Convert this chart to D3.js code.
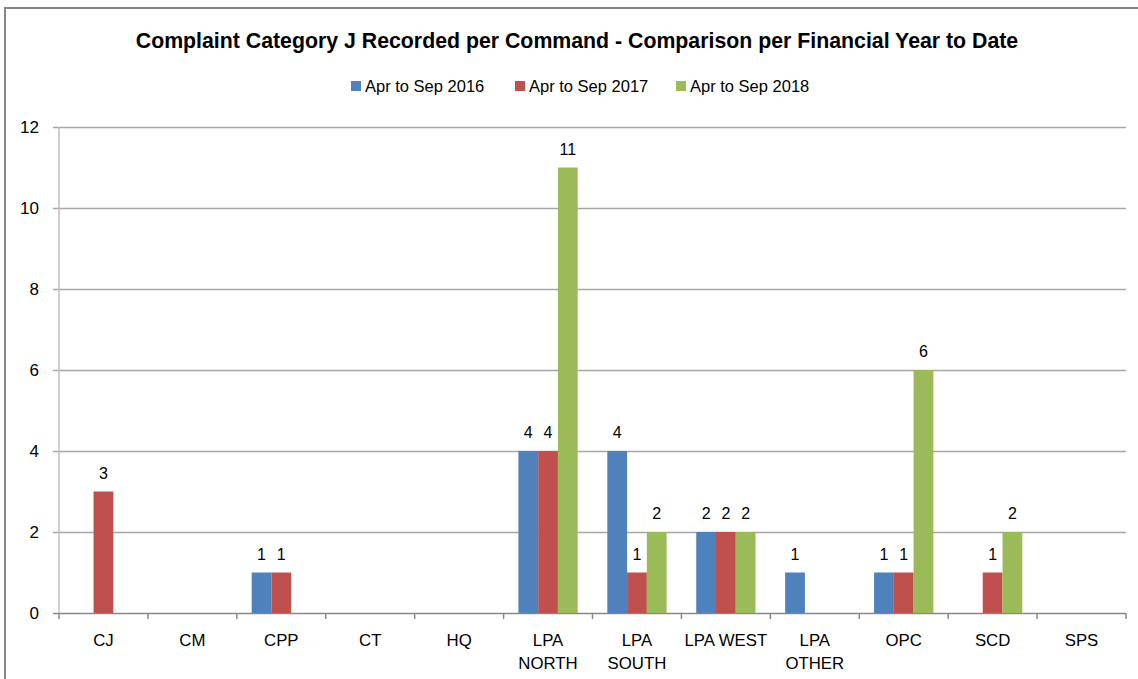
<!DOCTYPE html>
<html>
<head>
<meta charset="utf-8">
<script src="https://cdn.jsdelivr.net/npm/d3@7"></script>
<style>
  body { margin: 0; background: #fff; }
  text { font-family: "Liberation Sans", Arial, sans-serif; fill: #000; }
</style>
</head>
<body>
<script>
// chart data
var categories = ["CJ", "CM", "CPP", "CT", "HQ", "LPA NORTH", "LPA SOUTH", "LPA WEST", "LPA OTHER", "OPC", "SCD", "SPS"];
var tickLabels = [["CJ"], ["CM"], ["CPP"], ["CT"], ["HQ"], ["LPA", "NORTH"], ["LPA", "SOUTH"], ["LPA WEST"], ["LPA", "OTHER"], ["OPC"], ["SCD"], ["SPS"]];
var seriesNames = ["Apr to Sep 2016", "Apr to Sep 2017", "Apr to Sep 2018"];
var values2016 = [0, 0, 1, 0, 0, 4, 4, 2, 1, 1, 0, 0];
var values2017 = [3, 0, 1, 0, 0, 4, 1, 2, 0, 1, 1, 0];
var values2018 = [0, 0, 0, 0, 0, 11, 2, 2, 0, 6, 2, 0];
var yTicks = [0, 2, 4, 6, 8, 10, 12];
var colors = ["#4F81BD", "#C0504D", "#9BBB59"];

var W = 1138, H = 679;
var plotLeft = 59, plotRight = 1126, plotTop = 127, plotBottom = 613;

var svg = d3.select("body").append("svg")
    .attr("width", W)
    .attr("height", H);

// outer frame
svg.append("rect")
    .attr("x", 5).attr("y", 8)
    .attr("width", W + 10).attr("height", H + 10)
    .attr("fill", "none")
    .attr("stroke", "#868686")
    .attr("stroke-width", 2);

svg.append("text")
    .attr("x", 577).attr("y", 48)
    .attr("text-anchor", "middle")
    .attr("font-size", "21.3px")
    .attr("font-weight", "bold")
    .text("Complaint Category J Recorded per Command - Comparison per Financial Year to Date");

var x0 = d3.scaleBand().domain(categories).range([plotLeft, plotRight]).paddingInner(0).paddingOuter(0);
var x1 = d3.scaleBand().domain(seriesNames).range([0, x0.bandwidth()]).paddingInner(0).paddingOuter(0.75);
var y = d3.scaleLinear().domain([0, 12]).range([plotBottom, plotTop]);

// gridlines
svg.append("g").selectAll("line")
    .data(yTicks)
    .enter().append("line")
    .attr("x1", plotLeft - 6).attr("x2", plotRight)
    .attr("y1", function(d) { return y(d) + 0.5; })
    .attr("y2", function(d) { return y(d) + 0.5; })
    .attr("stroke", function(d) { return d === 0 ? "#888" : "#A6A6A6"; })
    .attr("stroke-width", 1.5);

// y axis line
svg.append("line")
    .attr("x1", plotLeft).attr("x2", plotLeft)
    .attr("y1", plotTop).attr("y2", plotBottom)
    .attr("stroke", "#BFBFBF")
    .attr("stroke-width", 1.5);

svg.append("g").selectAll("text")
    .data(yTicks)
    .enter().append("text")
    .attr("x", 39)
    .attr("y", function(d) { return y(d) + 6; })
    .attr("text-anchor", "end")
    .attr("font-size", "17px")
    .text(function(d) { return d; });

// category ticks at band edges
var edges = categories.map(function(c) { return x0(c); }).concat([plotRight]);
svg.append("g").selectAll("line")
    .data(edges)
    .enter().append("line")
    .attr("x1", function(d) { return d; })
    .attr("x2", function(d) { return d; })
    .attr("y1", plotBottom).attr("y2", plotBottom + 6)
    .attr("stroke", "#888")
    .attr("stroke-width", 1.5);

var catLabels = svg.append("g").selectAll("text")
    .data(categories)
    .enter().append("text")
    .attr("text-anchor", "middle")
    .attr("font-size", "16.8px");
catLabels.each(function(c, i) {
    var t = d3.select(this);
    tickLabels[i].forEach(function(line, j) {
        t.append("tspan")
            .attr("x", x0(c) + x0.bandwidth() / 2)
            .attr("y", 646 + j * 23)
            .text(line);
    });
});

// bars
var allValues = [values2016, values2017, values2018];
var rows = [];
categories.forEach(function(c, i) {
    seriesNames.forEach(function(s, k) {
        rows.push({ cat: c, series: s, k: k, value: allValues[k][i] });
    });
});

svg.append("g").selectAll("rect")
    .data(rows.filter(function(d) { return d.value > 0; }))
    .enter().append("rect")
    .attr("x", function(d) { return x0(d.cat) + x1(d.series); })
    .attr("y", function(d) { return y(d.value); })
    .attr("width", x1.bandwidth())
    .attr("height", function(d) { return y(0) - y(d.value); })
    .attr("fill", function(d) { return colors[d.k]; });

svg.append("g").selectAll("text")
    .data(rows.filter(function(d) { return d.value > 0; }))
    .enter().append("text")
    .attr("x", function(d) { return x0(d.cat) + x1(d.series) + x1.bandwidth() / 2; })
    .attr("y", function(d) { return y(d.value) - 13; })
    .attr("text-anchor", "middle")
    .attr("font-size", "16px")
    .text(function(d) { return d.value; });

// legend
var legendX = [351, 515, 676];
var legend = svg.append("g").selectAll("g")
    .data(seriesNames)
    .enter().append("g")
    .attr("transform", function(d, i) { return "translate(" + legendX[i] + ",81)"; });
legend.append("rect")
    .attr("width", 10).attr("height", 10)
    .attr("fill", function(d, i) { return colors[i]; });
legend.append("text")
    .attr("x", 14).attr("y", 10.5)
    .attr("font-size", "16.5px")
    .text(function(d) { return d; });
</script>
</body>
</html>
